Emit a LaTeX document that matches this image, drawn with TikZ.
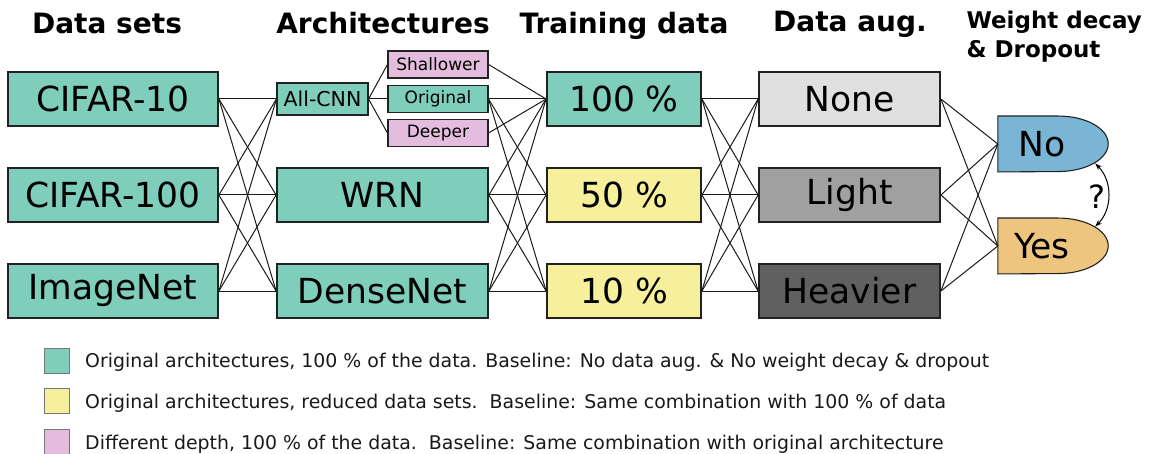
\documentclass[tikz,border=0pt]{standalone}
\usepackage{fontspec}
\setmainfont{DejaVu Sans}
\usetikzlibrary{backgrounds,arrows.meta}
\definecolor{cteal}{HTML}{7FCDBB}
\definecolor{cyellow}{HTML}{F6F09D}
\definecolor{cpink}{HTML}{E4BCDD}
\definecolor{cgrayA}{HTML}{E0E0E0}
\definecolor{cgrayB}{HTML}{A0A0A0}
\definecolor{cgrayC}{HTML}{606060}
\definecolor{cblue}{HTML}{7BB5D6}
\definecolor{corange}{HTML}{EDC57F}
\definecolor{cborder}{HTML}{222222}
\definecolor{clink}{HTML}{1A1A1A}
\definecolor{clegend}{HTML}{777777}
\begin{document}
\begin{tikzpicture}[x=1pt,y=-1pt,
  box/.style={draw=cborder, line width=1.8pt, minimum width=210pt, minimum height=54pt, inner sep=0pt, font=\fontsize{34.5}{38}\selectfont},
  sbox/.style={draw=cborder, line width=1.1pt, inner sep=0pt, minimum width=100pt, minimum height=27pt, font=\fontsize{17}{20}\selectfont},
  link/.style={draw=clink, line width=1pt},
  head/.style={font=\fontsize{28}{32}\selectfont\bfseries, anchor=base},
  headsmall/.style={font=\fontsize{23}{26}\selectfont\bfseries, anchor=base west},
  legsq/.style={draw=clegend, line width=0.8pt, minimum width=25pt, minimum height=25pt, inner sep=0pt},
  legtxt/.style={anchor=base west, inner sep=0pt, font=\fontsize{18.9}{22}\selectfont, text=black!90},
  dshape/.style={inner sep=0pt, minimum width=88pt, minimum height=55.5pt, font=\fontsize{34.5}{38}\selectfont}
]
\useasboundingbox (0,0) rectangle (1150,454);

% headings
\node[head] (hds) at (107,34) {Data sets};
\node[head] (har) at (383,34) {Architectures};
\node[head] (htr) at (624,34) {Training data};
\node[head] (hda) at (850,32) {Data aug.};
\node[headsmall] (hwd) at (963,29) {Weight decay};
\node[headsmall] (hdr) at (963,58) {\& Dropout};

% data sets
\node[box, fill=cteal] (c10) at (113,99) {CIFAR-10};
\node[box, fill=cteal] (c100) at (113,195) {CIFAR-100};
\node[box, fill=cteal] (inet) at (113,291) {ImageNet};

% architectures
\node[sbox, fill=cteal, minimum width=91pt, minimum height=32pt, font=\fontsize{20.5}{23}\selectfont] (acnn) at (322.5,99) {All-CNN};
\node[sbox, fill=cpink] (shal) at (438,64.5) {Shallower};
\node[sbox, fill=cteal] (orig) at (438,99) {Original};
\node[sbox, fill=cpink] (deep) at (438,133) {Deeper};
\node[box, fill=cteal, minimum width=211pt] (wrn) at (382.5,195) {WRN};
\node[box, fill=cteal, minimum width=211pt] (dense) at (382.5,291) {DenseNet};

% training data
\node[box, fill=cteal, minimum width=154pt] (t100) at (624,99) {100 \%};
\node[box, fill=cyellow, minimum width=154pt] (t50) at (624,195) {50 \%};
\node[box, fill=cyellow, minimum width=154pt] (t10) at (624,291) {10 \%};

% data augmentation
\node[box, fill=cgrayA, minimum width=181pt] (anone) at (849.5,99) {None};
\node[box, fill=cgrayB, minimum width=181pt] (alight) at (849.5,195) {Light};
\node[box, fill=cgrayC, minimum width=181pt] (aheavy) at (849.5,291) {Heavier};

% weight decay & dropout
\node[dshape] (no) at (1042,144) {No};
\node[dshape] (yes) at (1042,246) {Yes};
\begin{scope}[on background layer]
  \draw[draw=cborder, line width=1.1pt, fill=cblue] (no.south west) -- (no.north west) -- ([xshift=-28pt]no.north east) arc[start angle=-90, end angle=90, x radius=50, y radius=27.75] -- cycle;
  \draw[draw=cborder, line width=1.1pt, fill=corange] (yes.south west) -- (yes.north west) -- ([xshift=-28pt]yes.north east) arc[start angle=-90, end angle=90, x radius=50, y radius=27.75] -- cycle;
\end{scope}
\coordinate (qa) at ([shift={(9,-8.5)}]no.south east);
\coordinate (qb) at ([shift={(9,8.5)}]yes.north east);
\draw[line width=1pt, {Stealth[length=7pt,width=5pt]}-{Stealth[length=7pt,width=5pt]}] (qa) to[bend left=45] (qb);
\node[font=\fontsize{32}{36}\selectfont] (q) at (1097,197) {?};

% links
\begin{scope}[on background layer]
\foreach \a in {c10,c100,inet}
  \foreach \b in {acnn,wrn,dense}
    \draw[link] (\a.east) -- (\b.west);
\foreach \b in {shal,orig,deep}
  \draw[link] (acnn.east) -- (\b.west);
\foreach \a in {shal,orig,deep}
  \draw[link] (\a.east) -- (t100.west);
\foreach \a in {orig,wrn,dense}
  \foreach \b in {t50,t10}
    \draw[link] (\a.east) -- (\b.west);
\foreach \a in {wrn,dense}
  \draw[link] (\a.east) -- (t100.west);
\foreach \a in {t100,t50,t10}
  \foreach \b in {anone,alight,aheavy}
    \draw[link] (\a.east) -- (\b.west);
\foreach \a in {anone,alight,aheavy}
  \foreach \b in {no,yes}
    \draw[link] (\a.east) -- (\b.west);
\end{scope}

% legend
\node[legsq, fill=cteal] (l1) at (56.5,360.5) {};
\node[legsq, fill=cyellow] (l2) at (56.5,401) {};
\node[legsq, fill=cpink] (l3) at (56.5,442) {};
\node[legtxt] (t1) at (85,367) {Original architectures, 100 \% of the data. Baseline: No data aug. \& No weight decay \& dropout};
\node[legtxt] (t2) at (85,408) {Original architectures, reduced data sets.\ \ Baseline: Same combination with 100 \% of data};
\node[legtxt] (t3) at (85,449) {Different depth, 100 \% of the data.\ \ Baseline: Same combination with original architecture};
\end{tikzpicture}
\end{document}
